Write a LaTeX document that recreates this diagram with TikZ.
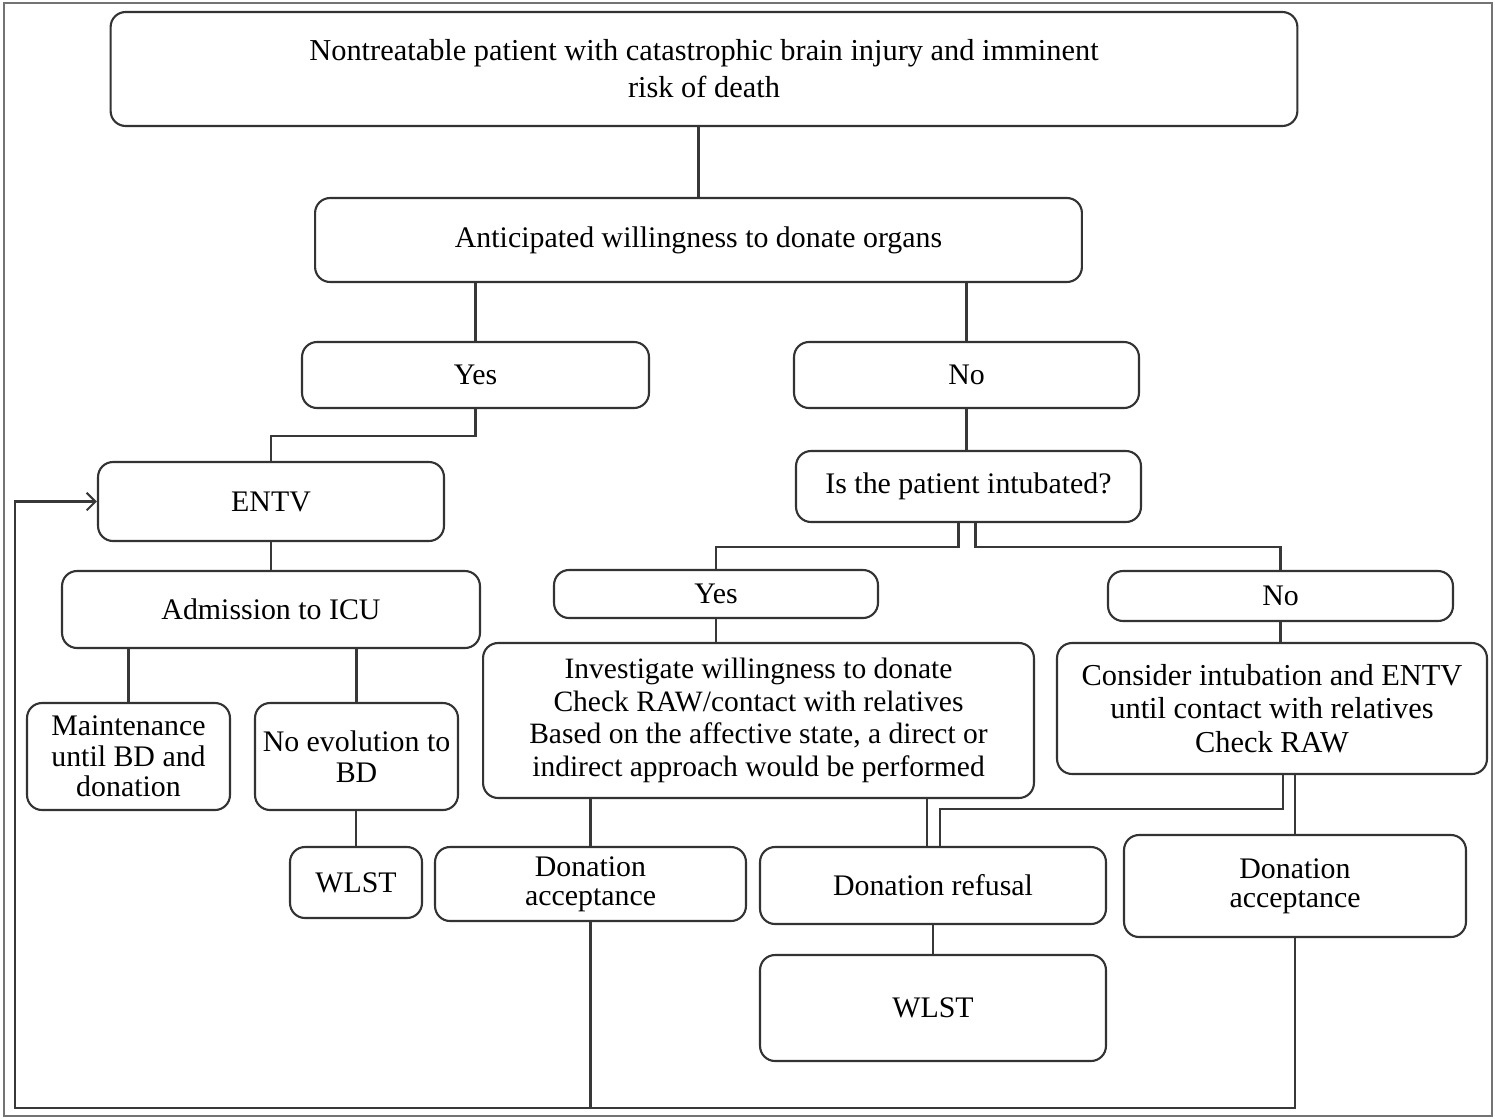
\documentclass[tikz,border=0pt]{standalone}
\usepackage{fontspec}
\setmainfont{Liberation Serif}
\usetikzlibrary{positioning,calc,arrows.meta}

\begin{document}
\begin{tikzpicture}[
    x=0.02cm,
    y=-0.02cm,
    box/.style={
        rectangle,
        rounded corners=0.3cm,
        draw=black!80,
        line width=1.2pt,
        align=center,
        inner sep=2pt,
        font=\fontsize{17}{20}\selectfont
    },
    line/.style={draw=black!78, line width=1.2pt}
]

% Page and frame
\useasboundingbox (0,0) rectangle (1495,1119);
\draw [black!55, line width=1.4pt] (4,3) rectangle (1492,1116);

% Blocks
\node [box, minimum width=23.74cm, minimum height=2.28cm, font=\fontsize{17.3}{21}\selectfont] (patient) at (704,69)
    {Nontreatable patient with catastrophic brain injury and imminent\\risk of death};
\node [box, minimum width=15.34cm, minimum height=1.68cm] (willing) at (698.5,240)
    {Anticipated willingness to donate organs};

\node [box, minimum width=6.94cm, minimum height=1.32cm] (yesA) at (475.5,375) {Yes};
\node [box, minimum width=6.9cm, minimum height=1.32cm] (noA) at (966.5,375) {No};

\node [box, minimum width=6.92cm, minimum height=1.58cm] (entv) at (271,501.5) {ENTV};
\node [box, minimum width=6.9cm, minimum height=1.42cm] (intub) at (968.5,486.5) {Is the patient intubated?};

\node [box, minimum width=8.36cm, minimum height=1.54cm] (icu) at (271,609.5) {Admission to ICU};
\node [box, minimum width=6.48cm, minimum height=0.96cm] (yesB) at (716,594) {Yes};
\node [box, minimum width=6.9cm, minimum height=1.0cm] (noB) at (1280.5,596) {No};

\node [box, minimum width=4.06cm, minimum height=2.14cm, font=\fontsize{17}{17.5}\selectfont] (maint) at (128.5,756.5)
    {Maintenance\\until BD and\\donation};
\node [box, minimum width=4.06cm, minimum height=2.14cm, font=\fontsize{17}{18}\selectfont] (noevo) at (356.5,756.5)
    {No evolution to\\BD};
\node [box, minimum width=11.02cm, minimum height=3.1cm, font=\fontsize{16.8}{18.6}\selectfont] (invest) at (758.5,720.5)
    {Investigate willingness to donate\\Check RAW/contact with relatives\\Based on the affective state, a direct or\\indirect approach would be performed};
\node [box, minimum width=8.6cm, minimum height=2.62cm, font=\fontsize{17.3}{19.2}\selectfont] (consid) at (1272,708.5)
    {Consider intubation and ENTV\\until contact with relatives\\Check RAW};

\node [box, minimum width=2.64cm, minimum height=1.42cm] (wlstA) at (356,882.5) {WLST};
\node [box, minimum width=6.22cm, minimum height=1.48cm, font=\fontsize{17}{16.5}\selectfont] (accA) at (590.5,884)
    {Donation\\acceptance};
\node [box, minimum width=6.92cm, minimum height=1.54cm] (refuse) at (933,885.5) {Donation refusal};
\node [box, minimum width=6.84cm, minimum height=2.04cm, font=\fontsize{17}{16.5}\selectfont] (accB) at (1295,886)
    {Donation\\acceptance};
\node [box, minimum width=6.92cm, minimum height=2.12cm] (wlstB) at (933,1008) {WLST};

% Helper points
\coordinate (intL) at ($(intub.south)+(-10,0)$);
\coordinate (intR) at ($(intub.south)+(7,0)$);
\coordinate (refL) at ($(refuse.north)+(-6,0)$);
\coordinate (refR) at ($(refuse.north)+(7,0)$);
\coordinate (conL) at ($(consid.south)+(11,0)$);
\coordinate (base) at (15,1108);

% Connections
\draw [line] (willing.north) -- (willing.north |- patient.south);
\draw [line] (yesA.north) -- (yesA.north |- willing.south);
\draw [line] (noA.north) -- (noA.north |- willing.south);
\draw [line] (yesA.south) -- ++(0,27) -| (entv.north);
\draw [line] (noA.south) -- (noA.south |- intub.north);
\draw [line] (entv.south) -- (icu.north);
\draw [line] (intL) -- ++(0,24) -| (yesB.north);
\draw [line] (intR) -- ++(0,24) -| (noB.north);
\draw [line] (maint.north) -- (maint.north |- icu.south);
\draw [line] (noevo.north) -- (noevo.north |- icu.south);
\draw [line] (wlstA.north) -- (wlstA.north |- noevo.south);
\draw [line] (yesB.south) -- (yesB.south |- invest.north);
\draw [line] (noB.south) -- (noB.south |- consid.north);
\draw [line] (accA.north) -- (accA.north |- invest.south);
\draw [line] (refL) -- (refL |- invest.south);
\draw [line] (conL) -- ++(0,34) -| (refR);
\draw [line] (accB.north) -- (accB.north |- consid.south);
\draw [line] (refuse.south) -- (wlstB.north);

% Loop back to ENTV
\draw [line] (accA.south) -- (accA.south |- base);
\draw [line, -{Straight Barb[length=5pt,width=10pt]}] (accB.south) |- (base) |- (entv.west);

\end{tikzpicture}
\end{document}
